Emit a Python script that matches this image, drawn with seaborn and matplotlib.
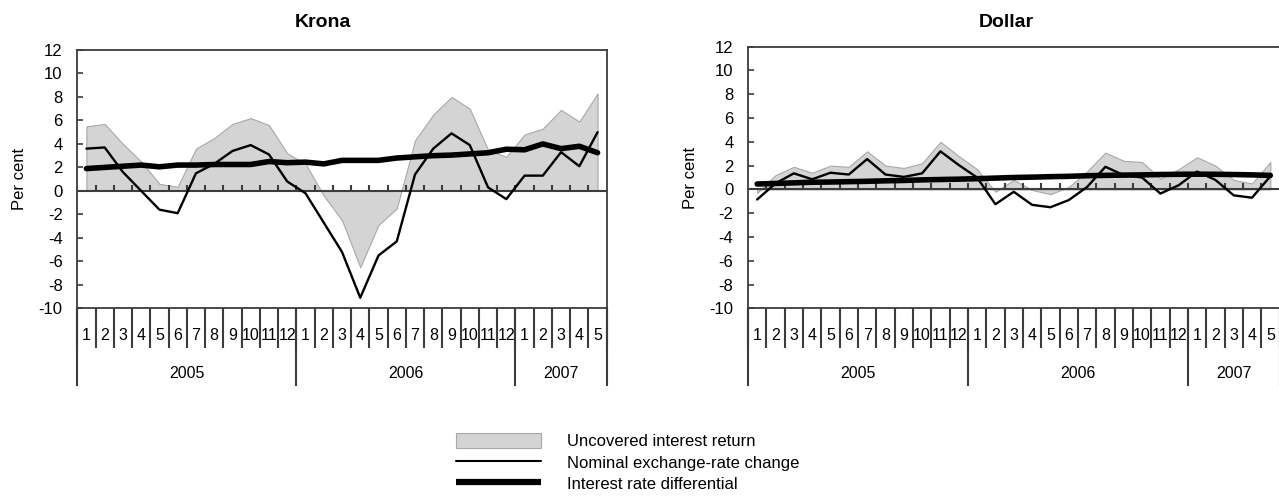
import numpy as np
import pandas as pd
import matplotlib
matplotlib.use("Agg")
import matplotlib.pyplot as plt
import seaborn as sns
from matplotlib.patches import Patch
from matplotlib.lines import Line2D
from matplotlib import font_manager

# ---------------- data ----------------
month_labels = [str(m) for m in range(1, 13)] * 2 + [str(m) for m in range(1, 6)]
years = ["2005", "2006", "2007"]
year_spans = [12, 12, 5]

krona_uncovered = [5.5, 5.7, 4.0, 2.5, 0.6, 0.35, 3.6, 4.5, 5.7, 6.2, 5.6, 3.2,
                   2.3, -0.4, -2.5, -6.5, -2.9, -1.5, 4.3, 6.5, 8.0, 7.0, 3.5, 2.9,
                   4.8, 5.3, 6.9, 5.9, 8.3]
krona_nominal = [3.6, 3.7, 1.6, 0.0, -1.6, -1.9, 1.5, 2.3, 3.4, 3.9, 3.1, 0.8,
                 -0.2, -2.7, -5.2, -9.1, -5.5, -4.3, 1.4, 3.6, 4.9, 3.9, 0.3, -0.7,
                 1.3, 1.3, 3.3, 2.1, 5.0]
krona_diff = [1.9, 2.0, 2.1, 2.2, 2.05, 2.2, 2.2, 2.25, 2.25, 2.25, 2.5, 2.4,
              2.45, 2.3, 2.6, 2.6, 2.6, 2.8, 2.9, 3.0, 3.05, 3.15, 3.25, 3.55,
              3.5, 4.0, 3.6, 3.8, 3.25]

dollar_uncovered = [-0.3, 1.2, 1.9, 1.4, 2.0, 1.9, 3.2, 2.0, 1.8, 2.2, 4.0, 2.8,
                    1.7, -0.2, 0.8, -0.05, -0.4, 0.2, 1.5, 3.1, 2.4, 2.3, 0.9, 1.7,
                    2.7, 2.0, 0.8, 0.5, 2.3]
dollar_nominal = [-0.85, 0.5, 1.35, 0.85, 1.4, 1.25, 2.55, 1.25, 1.05, 1.35, 3.2, 2.05,
                  1.0, -1.25, -0.2, -1.3, -1.5, -0.9, 0.2, 1.9, 1.2, 1.0, -0.35, 0.35,
                  1.5, 0.8, -0.5, -0.7, 1.1]
dollar_diff = [0.45, 0.5, 0.55, 0.6, 0.62, 0.65, 0.68, 0.72, 0.75, 0.8, 0.83, 0.86,
               0.9, 0.95, 1.0, 1.03, 1.07, 1.1, 1.15, 1.18, 1.2, 1.22, 1.25, 1.27,
               1.28, 1.27, 1.25, 1.22, 1.18]

y_ticks = list(range(-10, 13, 2))
legend_labels = ["Uncovered interest return", "Nominal exchange-rate change",
                 "Interest rate differential"]

# ---------------- style ----------------
sns.set_style("white")
plt.rcParams["font.family"] = ["Liberation Sans", "DejaVu Sans"]
plt.rcParams["text.color"] = "black"
plt.rcParams["axes.labelcolor"] = "black"
plt.rcParams["ytick.labelcolor"] = "black"
plt.rcParams["xtick.labelcolor"] = "black"
names = {f.name for f in font_manager.fontManager.ttflist}
narrow = "Liberation Sans Narrow" if "Liberation Sans Narrow" in names else "Liberation Sans"
month_fs = 12.5 if narrow == "Liberation Sans Narrow" else 11.5

W, H = 1279, 498
fig = plt.figure(figsize=(W / 100, H / 100), dpi=100)

SPINE = "#3c3c3c"
FILL = "#d4d4d4"
FILL_EDGE = "#a8a8a8"


def panel(left_px, top_px, right_px, bottom_px, uncovered, nominal, diff):
    ax = fig.add_axes([left_px / W, (H - bottom_px) / H,
                       (right_px - left_px) / W, (bottom_px - top_px) / H])
    ax_h = bottom_px - top_px
    n = len(month_labels)
    df = pd.DataFrame({"idx": np.arange(n), "uncovered": uncovered,
                       "nominal": nominal, "diff": diff})
    ax.fill_between(df["idx"], 0, df["uncovered"], facecolor=FILL,
                    edgecolor=FILL_EDGE, linewidth=0.8, zorder=1)
    ax.axhline(0, color=SPINE, lw=1.5, zorder=2)
    ax.vlines(np.arange(n - 1) + 0.5, 0, 0.5, color=SPINE, lw=1.5, zorder=2)
    sns.lineplot(data=df, x="idx", y="nominal", ax=ax, color="black",
                 linewidth=1.7, zorder=3)
    sns.lineplot(data=df, x="idx", y="diff", ax=ax, color="black",
                 linewidth=4.0, zorder=4, solid_capstyle="round")
    ax.set_xlim(-0.5, n - 0.5)
    ax.set_ylim(-10, 12)
    ax.set_yticks(y_ticks)
    ax.set_yticklabels([str(t) for t in y_ticks])
    ax.set_xticks([])
    ax.set_xlabel("")
    ax.set_ylabel("Per cent", fontsize=12, color="black")
    ax.yaxis.set_label_coords(-50 / (right_px - left_px), 0.5)
    ax.tick_params(axis="y", direction="in", length=4, width=1.2, color=SPINE,
                   labelsize=12, pad=10.5, left=True, labelcolor="black")
    for s in ax.spines.values():
        s.set_color(SPINE)
        s.set_linewidth(1.3)
        s.set_visible(True)

    tr = ax.get_xaxis_transform()
    # month separators and labels
    ax.vlines(np.arange(n + 1) - 0.5, -40 / ax_h, 0, transform=tr, color=SPINE,
              lw=1.5, clip_on=False)
    for i, lab in enumerate(month_labels):
        ax.text(i, -27.5 / ax_h, lab, transform=tr, ha="center", va="center",
                fontsize=month_fs, family=narrow, color="black")
    # year separators and labels
    edges = np.concatenate([[0], np.cumsum(year_spans)]) - 0.5
    ax.vlines(edges, -78 / ax_h, 0, transform=tr, color=SPINE, lw=1.5,
              clip_on=False)
    for k, yr in enumerate(years):
        ax.text((edges[k] + edges[k + 1]) / 2, -65.5 / ax_h, yr, transform=tr,
                ha="center", va="center", fontsize=month_fs, family=narrow,
                color="black")
    return ax


axL = panel(77.3, 50.0, 606.7, 308.3, krona_uncovered, krona_nominal, krona_diff)
axR = panel(748.0, 46.7, 1279.5, 308.3, dollar_uncovered, dollar_nominal, dollar_diff)

fig.text(323 / W, (H - 26.7) / H, "Krona", ha="center", va="baseline",
         fontsize=14, fontweight="bold", color="black")
fig.text(1006 / W, (H - 26.7) / H, "Dollar", ha="center", va="baseline",
         fontsize=14, fontweight="bold", color="black")

handles = [Patch(facecolor=FILL, edgecolor=FILL_EDGE, linewidth=0.8),
           Line2D([], [], color="black", lw=1.5),
           Line2D([], [], color="black", lw=4.5, solid_capstyle="butt")]
fs_px = 12 * 100 / 72
fig.legend(handles, legend_labels, loc="upper left",
           bbox_to_anchor=(456 / W, (H - 433) / H), frameon=False,
           fontsize=12, handlelength=85 / fs_px, handleheight=17 / fs_px,
           handletextpad=26 / fs_px, labelspacing=0.3, borderpad=0,
           borderaxespad=0, labelcolor="black")

fig.savefig("out.png", dpi=100)
